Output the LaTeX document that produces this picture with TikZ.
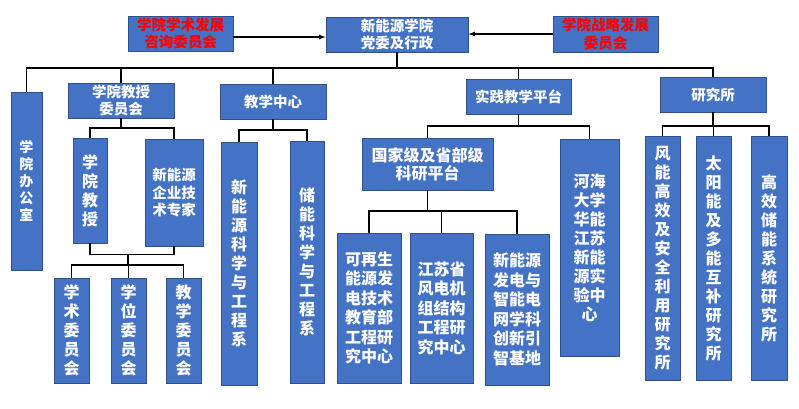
\documentclass[tikz,border=0pt]{standalone}
\usepackage{fontspec}
\setmainfont{Noto Sans CJK SC}
\usepackage{xcolor}
\usetikzlibrary{arrows}
\usetikzlibrary{math}
\usetikzlibrary{calc}

\definecolor{unitblue}{HTML}{4472C4}
\definecolor{unitedge}{HTML}{2F528F}
\definecolor{unitred}{HTML}{FF0000}

\tikzset{
  unit/.style={draw=unitedge, fill=unitblue, line width=0.8pt, text=white,
    align=center, inner sep=0pt,
    font=\bfseries\fontsize{14.5}{17.5}\selectfont},
  redunit/.style={unit, text=unitred},
  tallunit/.style={unit, font=\bfseries\fontsize{16}{19}\selectfont},
  link/.style={line width=1.2pt, black},
}

\begin{document}
\begin{tikzpicture}[x=1pt,y=-1pt]

  \tikzmath{
    \busA = 68;  % first level bus
    \busB = 128; % under the professors committee
    \busC = 265; % over the three committees
  }

  \useasboundingbox (0,0) rectangle (799,408);

  % top row
  \node[redunit, minimum width=105pt, minimum height=35pt] (acadcom) at (180.5,33.5)
    {学院学术发展\\咨询委员会};
  \node[unit, minimum width=142pt, minimum height=35pt] (main) at (397,34.5)
    {新能源学院\\党委及行政};
  \node[redunit, minimum width=105pt, minimum height=36pt] (stratcom) at (605.5,34)
    {学院战略发展\\委员会};

  % second row
  \node[unit, minimum width=31pt, minimum height=178pt,
    font=\bfseries\fontsize{14}{17}\selectfont] (office) at (26.5,181)
    {学\\院\\办\\公\\室};
  \node[unit, minimum width=106pt, minimum height=35pt] (profcom) at (121,100.5)
    {学院教授\\委员会};
  \node[unit, minimum width=106pt, minimum height=35pt] (teach) at (273,101.5)
    {教学中心};
  \node[unit, minimum width=105pt, minimum height=35pt] (practice) at (518.5,96.5)
    {实践教学平台};
  \node[unit, minimum width=106pt, minimum height=35pt] (inst) at (713,94.5)
    {研究所};

  % professors and experts
  \node[tallunit, minimum width=34pt, minimum height=105pt] (prof) at (90,190.5)
    {学\\院\\教\\授};
  \node[unit, minimum width=58pt, minimum height=107pt] (expert) at (174,192.5)
    {新能源\\企业技\\术专家};
  \node[tallunit, minimum width=35pt, minimum height=105pt] (acom) at (71.5,330.5)
    {学\\术\\委\\员\\会};
  \node[tallunit, minimum width=35pt, minimum height=105pt] (dcom) at (128.5,330.5)
    {学\\位\\委\\员\\会};
  \node[tallunit, minimum width=35pt, minimum height=105pt] (ecom) at (183.5,330.5)
    {教\\学\\委\\员\\会};

  % departments
  \node[tallunit, minimum width=36pt, minimum height=243pt] (nedept) at (239,263.5)
    {新\\能\\源\\科\\学\\与\\工\\程\\系};
  \node[tallunit, minimum width=34pt, minimum height=242pt] (esdept) at (307,262)
    {储\\能\\科\\学\\与\\工\\程\\系};

  % platforms
  \node[tallunit, minimum width=131pt, minimum height=52pt,
    font=\bfseries\fontsize{16}{18}\selectfont] (natplat) at (427.5,164)
    {国家级及省部级\\科研平台};
  \node[tallunit, minimum width=59pt, minimum height=217pt] (hhlab) at (589.5,247.5)
    {河海\\大学\\华能\\江苏\\新能\\源实\\验中\\心};
  \node[tallunit, minimum width=64pt, minimum height=150pt,
    font=\bfseries\fontsize{16}{19.5}\selectfont] (renew) at (369,308)
    {可再生\\能源发\\电技术\\教育部\\工程研\\究中心};
  \node[tallunit, minimum width=63pt, minimum height=150pt,
    font=\bfseries\fontsize{16}{19.5}\selectfont] (jswind) at (441.5,308)
    {江苏省\\风电机\\组结构\\工程研\\究中心};
  \node[tallunit, minimum width=64pt, minimum height=151pt,
    font=\bfseries\fontsize{16}{19.5}\selectfont] (smart) at (517,309.5)
    {新能源\\发电与\\智能电\\网学科\\创新引\\智基地};

  % institutes
  \node[tallunit, minimum width=35pt, minimum height=244pt] (wind) at (662.5,258)
    {风\\能\\高\\效\\及\\安\\全\\利\\用\\研\\究\\所};
  \node[tallunit, minimum width=35pt, minimum height=244pt] (solar) at (713.5,258)
    {太\\阳\\能\\及\\多\\能\\互\\补\\研\\究\\所};
  \node[tallunit, minimum width=36pt, minimum height=244pt] (store) at (769,258)
    {高\\效\\储\\能\\系\\统\\研\\究\\所};

  % advisory arrows
  \draw[link, -latex] ([yshift=-3.5pt]acadcom.east) -- ([yshift=-3.5pt]acadcom.east -| main.west);
  \draw[link, -latex] (stratcom.west) -- (stratcom.west -| main.east);

  % bus points
  \coordinate (bus0) at (397,\busA);
  \coordinate (bus1) at (121,\busB);
  \coordinate (join) at (128,254);
  \coordinate (bus2) at (128,\busC);
  \coordinate (bus3) at (273,130);
  \coordinate (bus4) at (518.5,126);
  \coordinate (bus5) at (427.5,211);
  \coordinate (bus6) at (713,126);

  % tree links
  \draw[link] (main.south) -- (bus0);
  \foreach \n in {office,profcom,teach,practice,inst}
    \draw[link] (bus0) -| (\n.north);

  \draw[link] (profcom.south) -- (bus1);
  \foreach \n in {prof,expert}
    \draw[link] (bus1) -| (\n.north);
  \draw[link] (prof.south) -- ++(0,11) -| (expert.south);
  \draw[link] (join) -- (bus2);
  \foreach \n in {acom,dcom,ecom}
    \draw[link] (bus2) -| (\n.north);

  \draw[link] (teach.south) -- (bus3);
  \foreach \n in {nedept,esdept}
    \draw[link] (bus3) -| (\n.north);

  \draw[link] (practice.south) -- (bus4);
  \foreach \n in {natplat,hhlab}
    \draw[link] (bus4) -| (\n.north);

  \draw[link] (natplat.south) -- (bus5);
  \foreach \n in {renew,jswind,smart}
    \draw[link] (bus5) -| (\n.north);

  \draw[link] (inst.south) -- (bus6);
  \foreach \n in {wind,solar,store}
    \draw[link] (bus6) -| (\n.north);

\end{tikzpicture}
\end{document}
